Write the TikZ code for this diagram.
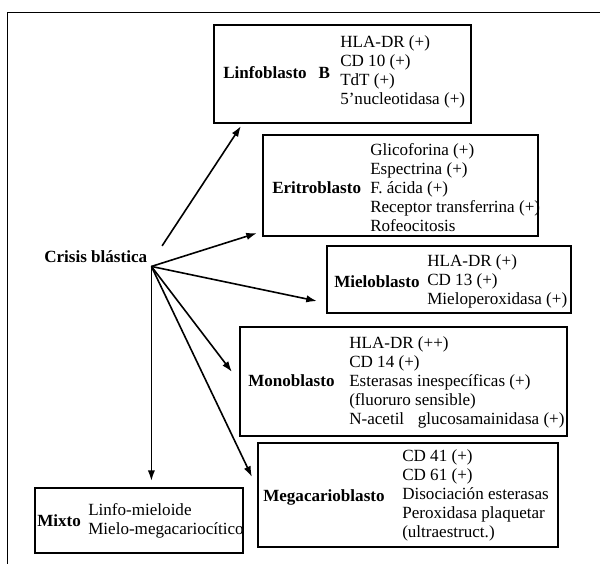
\documentclass[tikz,border=0pt]{standalone}
\usepackage{fontspec}
\setmainfont{Liberation Serif}
\usetikzlibrary{arrows.meta}

\begin{document}
\begin{tikzpicture}[x=0.75pt, y=-0.75pt,
    every node/.style={font=\fontsize{12.8}{14.25}\selectfont, inner sep=0pt},
    blk/.style={draw, line width=1.6pt},
    hd/.style={font=\fontsize{12.8}{14.25}\selectfont\bfseries, anchor=west},
    lst/.style={align=left, anchor=west},
    arr/.style={-{Latex[length=8pt,width=5.5pt]}, line width=1.2pt}]
    \useasboundingbox (0,0) rectangle (600,564);
    \draw[line width=0.75pt] (7,564) -- (7,12) -- (600,12);

    \node[hd, anchor=base west, inner sep=3pt] (cb) at (40,262) {Crisis blástica};

    \node[blk, minimum width=192.75pt, minimum height=73.5pt] (lin) at (342.5,74) {};
    \node[hd] (linH) at (223,73) {Linfoblasto\hspace{0.7em}B};
    \node[lst] (linL) at (340,71.5) {HLA-DR (+)\\CD 10 (+)\\TdT (+)\\5'nucleotidasa (+)};

    \node[blk, minimum width=206.25pt, minimum height=75.75pt] (eri) at (400.5,185.5) {};
    \node[hd] (eriH) at (272,188) {Eritroblasto};
    \node[lst] (eriL) at (370,188) {Glicoforina (+)\\Espectrina (+)\\F. ácida (+)\\Receptor transferrina (+)\\Rofeocitosis};

    \node[blk, minimum width=183pt, minimum height=50.25pt] (mie) at (449,279.5) {};
    \node[hd] (mieH) at (334,282) {Mieloblasto};
    \node[lst] (mieL) at (427,281) {HLA-DR (+)\\CD 13 (+)\\Mieloperoxidasa (+)};

    \node[blk, minimum width=245.25pt, minimum height=81.75pt] (mon) at (403.5,381.5) {};
    \node[hd] (monH) at (248,381) {Monoblasto};
    \node[lst] (monL) at (349,382) {HLA-DR (++)\\CD 14 (+)\\Esterasas inespecíficas (+)\\(fluoruro sensible)\\N-acetil\hspace{0.8em}glucosamainidasa (+)};

    \node[blk, minimum width=225pt, minimum height=78pt] (meg) at (408,495) {};
    \node[hd] (megH) at (263,497) {Megacarioblasto};
    \node[lst] (megL) at (402,495) {CD 41 (+)\\CD 61 (+)\\Disociación esterasas\\Peroxidasa plaquetar\\(ultraestruct.)};

    \node[blk, minimum width=156pt, minimum height=48.75pt] (mix) at (139,520.5) {};
    \node[hd] (mixH) at (37,521) {Mixto};
    \node[lst] (mixL) at (88,521) {Linfo-mieloide\\Mielo-megacariocítico};

    \draw[arr] ([xshift=8pt]cb.north east) -- ([xshift=21pt,yshift=-1.5pt]lin.south west);
    \draw[arr] (cb.south east) -- ([xshift=-3.75pt,yshift=3pt]eri.south west);
    \draw[arr] (cb.south east) -- ([xshift=-6.75pt,yshift=9.75pt]mie.south west);
    \draw[arr] (cb.south east) -- ([xshift=-5.25pt,yshift=-34.5pt]mon.north west);
    \draw[arr] (cb.south east) -- ([xshift=-3.75pt,yshift=-26.25pt]meg.north west);
    \draw[arr, shorten >=4.5pt] (cb.south east) -- (cb.south east |- mix.north);
\end{tikzpicture}
\end{document}
